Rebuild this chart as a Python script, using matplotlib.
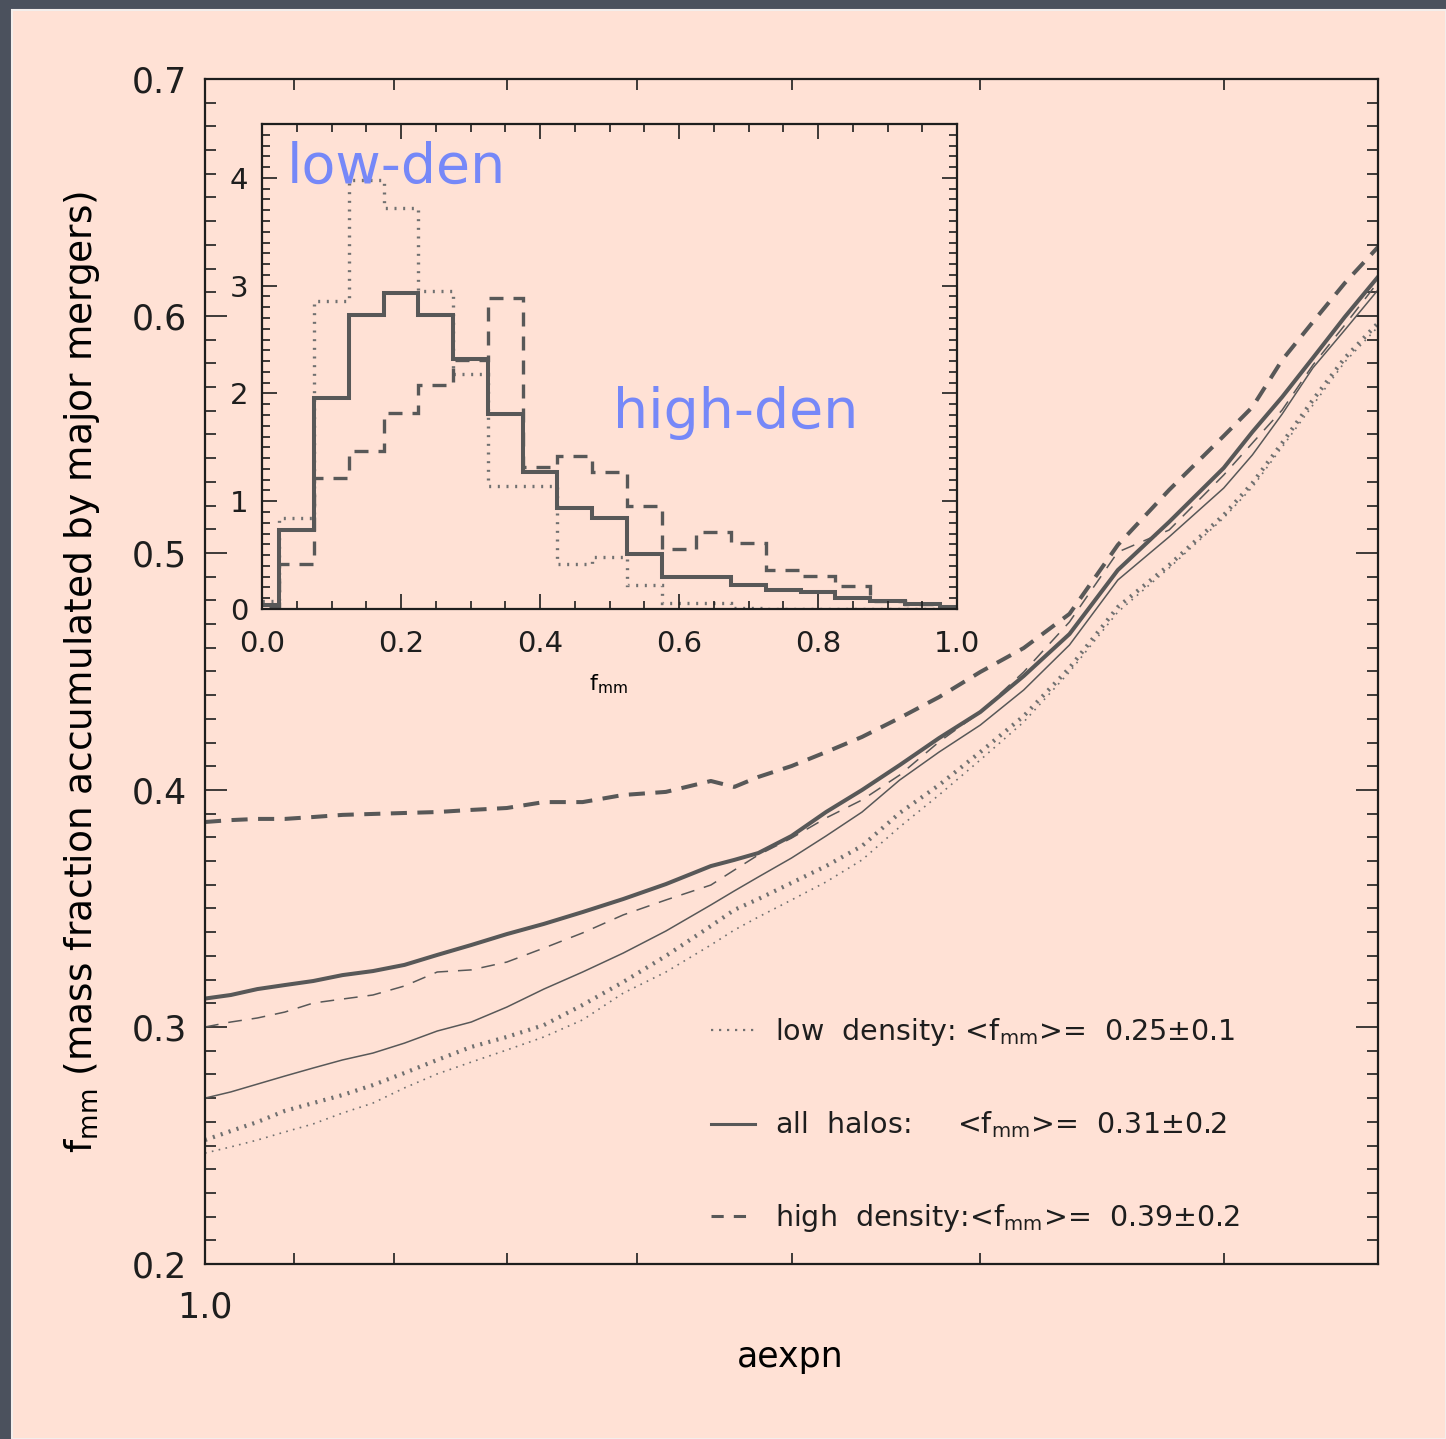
import numpy as np
import matplotlib
matplotlib.use("Agg")
import matplotlib.pyplot as plt
from matplotlib.patches import Rectangle
from matplotlib.lines import Line2D
from matplotlib.ticker import FixedLocator, MultipleLocator, NullLocator, FixedFormatter

# ---- cumulative major-merger mass fraction vs. expansion factor ----
aexpn = [1.00, 0.97, 0.94, 0.91, 0.88, 0.85, 0.82, 0.79, 0.76, 0.73, 0.70,
         0.67, 0.64, 0.61, 0.58, 0.55, 0.535, 0.52, 0.50, 0.48, 0.46, 0.44,
         0.42, 0.40, 0.38, 0.36, 0.34, 0.32, 0.30, 0.29, 0.28, 0.27, 0.26, 0.25]

all_thick = [0.3120, 0.3135, 0.3160, 0.3177, 0.3194, 0.3219, 0.3236, 0.3262,
             0.3304, 0.3346, 0.3392, 0.3435, 0.3485, 0.3540, 0.3603, 0.3679,
             0.3705, 0.3734, 0.3806, 0.3907, 0.4000, 0.4105, 0.4219, 0.4329,
             0.4481, 0.4658, 0.4928, 0.5131, 0.5359, 0.5511, 0.5658, 0.5823,
             0.5996, 0.6165]
all_thin = [0.2700, 0.2726, 0.2759, 0.2793, 0.2827, 0.2861, 0.2890, 0.2932,
            0.2983, 0.3021, 0.3084, 0.3160, 0.3232, 0.3312, 0.3405, 0.3515,
            0.3574, 0.3633, 0.3713, 0.3806, 0.3907, 0.4042, 0.4160, 0.4274,
            0.4422, 0.4612, 0.4886, 0.5068, 0.5274, 0.5414, 0.5586, 0.5781,
            0.5941, 0.6110]
high_thick = [0.3865, 0.3873, 0.3878, 0.3878, 0.3886, 0.3895, 0.3899, 0.3903,
              0.3907, 0.3916, 0.3924, 0.3949, 0.3949, 0.3979, 0.3992, 0.4038,
              0.4013, 0.4055, 0.4101, 0.4160, 0.4224, 0.4304, 0.4392, 0.4498,
              0.4599, 0.4743, 0.5034, 0.5266, 0.5494, 0.5616, 0.5814, 0.5975,
              0.6139, 0.6291]
high_thin = [0.3000, 0.3021, 0.3038, 0.3063, 0.3101, 0.3118, 0.3135, 0.3173,
             0.3232, 0.3241, 0.3274, 0.3333, 0.3397, 0.3473, 0.3536, 0.3599,
             0.3662, 0.3726, 0.3797, 0.3882, 0.3958, 0.4063, 0.4203, 0.4329,
             0.4498, 0.4709, 0.5004, 0.5097, 0.5329, 0.5464, 0.5603, 0.5793,
             0.5962, 0.6143]
low_thick = [0.2523, 0.2561, 0.2599, 0.2646, 0.2679, 0.2713, 0.2755, 0.2806,
             0.2861, 0.2916, 0.2958, 0.3008, 0.3093, 0.3190, 0.3300, 0.3426,
             0.3494, 0.3540, 0.3608, 0.3679, 0.3764, 0.3903, 0.4021, 0.4160,
             0.4312, 0.4515, 0.4772, 0.4949, 0.5160, 0.5295, 0.5464, 0.5646,
             0.5823, 0.5970]
low_thin = [0.2468, 0.2494, 0.2523, 0.2557, 0.2591, 0.2637, 0.2679, 0.2743,
            0.2802, 0.2852, 0.2903, 0.2958, 0.3030, 0.3143, 0.3232, 0.3346,
            0.3409, 0.3464, 0.3536, 0.3612, 0.3705, 0.3844, 0.3979, 0.4127,
            0.4287, 0.4498, 0.4751, 0.4937, 0.5148, 0.5278, 0.5447, 0.5624,
            0.5806, 0.5954]

aexpn_ticks = [1.0, 0.9, 0.8, 0.7, 0.6, 0.5, 0.4, 0.3]
aexpn_ticklabels = ["1.0", "", "", "", "", "", "", ""]

# ---- distribution of f_mm (inset) ----
bin_centers = [0.00, 0.05, 0.10, 0.15, 0.20, 0.25, 0.30, 0.35, 0.40, 0.45, 0.50,
               0.55, 0.60, 0.65, 0.70, 0.75, 0.80, 0.85, 0.90, 0.95, 1.00]
hist_low = [0.07, 0.84, 2.86, 3.98, 3.72, 2.95, 2.18, 1.14, 1.14, 0.42, 0.48,
            0.22, 0.06, 0.06, 0.01, 0.0, 0.0, 0.0, 0.0, 0.0, 0.0]
hist_all = [0.04, 0.73, 1.96, 2.73, 2.93, 2.73, 2.32, 1.81, 1.27, 0.94, 0.84,
            0.51, 0.30, 0.30, 0.22, 0.18, 0.16, 0.10, 0.07, 0.05, 0.02]
hist_high = [0.03, 0.42, 1.22, 1.47, 1.82, 2.08, 2.31, 2.89, 1.32, 1.42, 1.27,
             0.96, 0.56, 0.71, 0.61, 0.36, 0.31, 0.21, 0.07, 0.05, 0.02]

legend_labels = [r"low  density: <f$_{\rm mm}$>=  0.25$\pm$0.1",
                 r"all  halos:     <f$_{\rm mm}$>=  0.31$\pm$0.2",
                 r"high  density:<f$_{\rm mm}$>=  0.39$\pm$0.2"]

# ---- style ----
INK = "#1e1e1e"
CURVE = "#585858"
DOTS = "#707070"
PANEL = "#ffe1d5"
FRAME = "#4b515d"
BLUE = "#7688f8"

plt.rcParams["font.family"] = ["DejaVu Sans"]
plt.rcParams["mathtext.fontset"] = "dejavusans"
plt.rcParams["text.color"] = INK

W, H = 1446, 1439
fig = plt.figure(figsize=(W / 100, H / 100), dpi=100, facecolor=FRAME)
fig.patches.append(Rectangle((12 / W, 0), 1 - 12 / W, 1 - 10 / H,
                             transform=fig.transFigure, facecolor=PANEL,
                             edgecolor="#f3eeec", linewidth=1.5, zorder=-10))


def frac_box(x0, y0, x1, y1):
    return [x0 / W, 1 - y1 / H, (x1 - x0) / W, (y1 - y0) / H]


# main axes
ax = fig.add_axes(frac_box(205, 79, 1378, 1264))
ax.set_facecolor("none")
ax.set_xscale("log")
ax.set_xlim(1.0, 0.25)
ax.set_ylim(0.2, 0.7)
ax.xaxis.set_major_locator(FixedLocator(aexpn_ticks))
ax.xaxis.set_major_formatter(FixedFormatter(aexpn_ticklabels))
ax.xaxis.set_minor_locator(NullLocator())
ax.yaxis.set_major_locator(MultipleLocator(0.1))
ax.yaxis.set_minor_locator(MultipleLocator(0.01))
ax.yaxis.set_major_formatter(matplotlib.ticker.FormatStrFormatter("%.1f"))
for s in ax.spines.values():
    s.set_linewidth(1.6)
    s.set_color(INK)
ax.tick_params(axis="both", which="both", direction="in", top=True, right=True,
               colors=INK, width=1.2)
ax.tick_params(axis="y", which="major", length=16, labelsize=25, pad=13)
ax.tick_params(axis="y", which="minor", length=8)
ax.tick_params(axis="x", which="major", length=8, labelsize=25, pad=19)

ax.plot(aexpn, low_thin, color=DOTS, lw=1.2, ls=(0, (1.0, 3.2)))
ax.plot(aexpn, low_thick, color=DOTS, lw=3.0, ls=(0, (0.5, 1.5)))
ax.plot(aexpn, high_thin, color=CURVE, lw=1.1, ls=(0, (9, 6.5)))
ax.plot(aexpn, all_thin, color=CURVE, lw=1.1)
ax.plot(aexpn, high_thick, color=CURVE, lw=2.9, ls=(0, (4, 2.6)))
ax.plot(aexpn, all_thick, color=CURVE, lw=2.9)

ax.set_xlabel("aexpn", fontsize=25)
ax.xaxis.set_label_coords(0.4987, -0.064)
ax.set_ylabel(r"f$_{\rm mm}$ (mass fraction accumulated by major mergers)",
              fontsize=27)
ax.yaxis.set_label_coords(-0.088, 0.50)

handles = [Line2D([], [], color=DOTS, lw=1.6, ls=(0, (1.0, 2.6))),
           Line2D([], [], color=CURVE, lw=2.2),
           Line2D([], [], color=CURVE, lw=2.2, ls=(0, (4, 3.3)))]
leg = ax.legend(handles, legend_labels, loc="upper left",
                bbox_to_anchor=(0.431, 0.209), frameon=False, fontsize=20.5,
                handlelength=1.55, handletextpad=0.7, labelspacing=2.15,
                borderpad=0, borderaxespad=0)

# inset histogram
ins = fig.add_axes(frac_box(262, 124, 957, 609))
ins.set_facecolor("none")
ins.set_xlim(0.0, 1.0)
ins.set_ylim(0.0, 4.5)
edges = np.concatenate([np.array(bin_centers) - 0.025, [bin_centers[-1] + 0.025]])
ins.stairs(hist_low, edges, baseline=None, color=DOTS, lw=2.4, ls=(0, (0.6, 2.0)))
ins.stairs(hist_high, edges, baseline=None, color=CURVE, lw=2.4, ls=(0, (4.2, 3.0)))
ins.stairs(hist_all, edges, baseline=None, color=CURVE, lw=2.9)
ins.xaxis.set_major_locator(MultipleLocator(0.2))
ins.xaxis.set_minor_locator(MultipleLocator(0.05))
ins.xaxis.set_major_formatter(matplotlib.ticker.FormatStrFormatter("%.1f"))
ins.yaxis.set_major_locator(MultipleLocator(1))
ins.yaxis.set_minor_locator(MultipleLocator(0.1))
for s in ins.spines.values():
    s.set_linewidth(1.6)
    s.set_color(INK)
ins.tick_params(axis="both", which="both", direction="in", top=True, right=True,
                colors=INK, width=1.2, labelsize=21)
ins.tick_params(axis="both", which="major", length=11)
ins.tick_params(axis="both", which="minor", length=6)
ins.tick_params(axis="x", which="major", pad=15)
ins.tick_params(axis="y", which="major", pad=10)
ins.set_xlabel(r"f$_{\rm mm}$", fontsize=16)
ins.xaxis.set_label_coords(0.498, -0.13)

ins.text(0.035, 0.91, "low-den", transform=ins.transAxes, color=BLUE,
         fontsize=40, ha="left", va="center")
ins.text(0.505, 0.405, "high-den", transform=ins.transAxes, color=BLUE,
         fontsize=40, ha="left", va="center")

fig.savefig("out.png", dpi=100, facecolor=FRAME)
